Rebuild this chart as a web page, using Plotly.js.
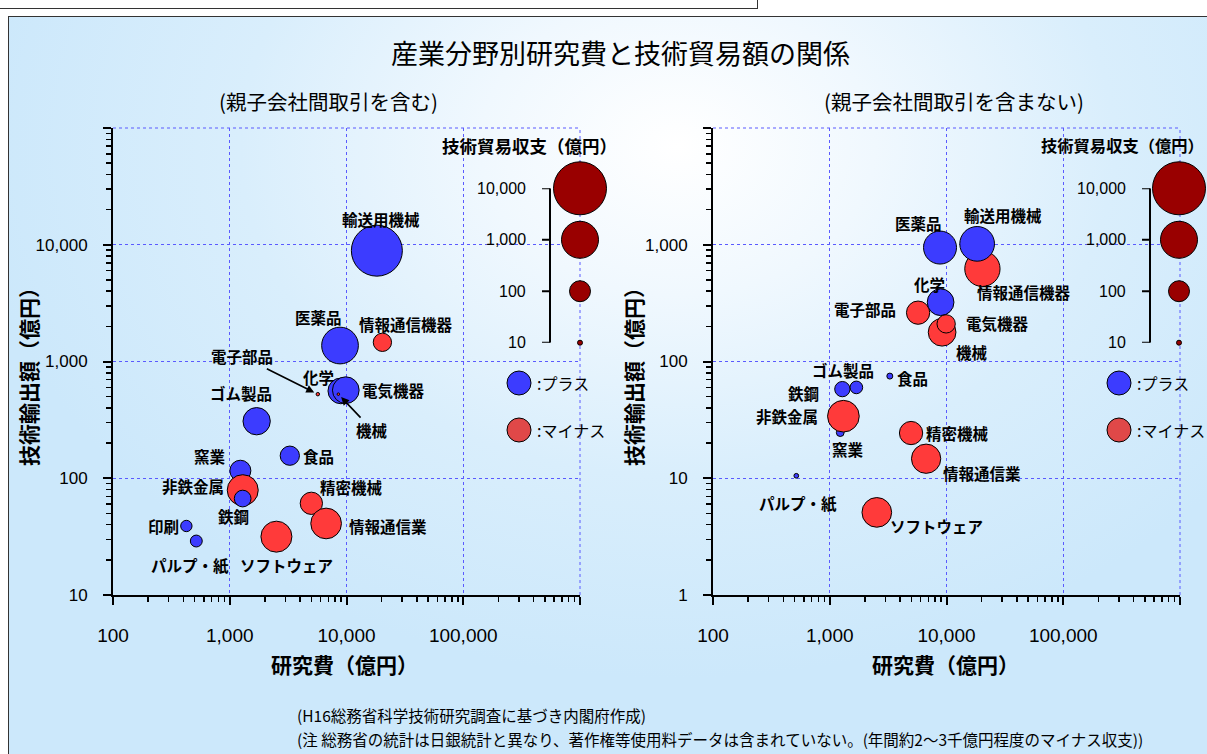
<!DOCTYPE html>
<html><head><meta charset="utf-8">
<script src="https://cdn.plot.ly/plotly-3.0.1.min.js"></script>
<style>
html,body{margin:0;padding:0;width:1207px;height:754px;overflow:hidden;background:#fff;}
#panel{position:absolute;left:8px;top:16px;width:1215px;height:760px;border:1.5px solid #333;
 background:radial-gradient(ellipse 58% 70% at 55% 17%, #ffffff 0%, #f0f8fe 28%, #d9eefc 62%, #cce8fb 100%);}
#topbox{position:absolute;left:-2px;top:-2px;width:758px;height:9px;border:1.5px solid #333;background:#fff;}
#chart{position:absolute;left:0;top:0;width:1207px;height:754px;}
</style></head>
<body>
<div id="panel"></div>
<div id="topbox"></div>
<div id="chart"></div>
<script>
// ---------- data ----------
// left chart: including parent/subsidiary transactions
const catsA = ['電子部品','化学','電気機器','機械','輸送用機械','医薬品','情報通信機器','ゴム製品','食品','窯業','非鉄金属','鉄鋼','印刷','パルプ・紙','ソフトウェア','精密機械','情報通信業'];
const rdA   = [5680, 8940, 9860, 8520, 18200, 8800, 20300, 1700, 3270, 1233, 1292, 1290, 425, 517, 2510, 5000, 6690];
const expA  = [525, 560, 568, 525, 8900, 1370, 1460, 308, 156, 116, 79, 67, 39, 29, 31.6, 61, 41];
const balA  = [-8, 196, 227, -7, 7500, 960, -68, 248, 78, 100, -422, 54, 25, 27, -422, -121, -403];
// right chart: excluding parent/subsidiary transactions
const catsB = ['電子部品','化学','機械','電気機器','情報通信機器','輸送用機械','医薬品','ゴム製品','鉄鋼','食品','窯業','非鉄金属','パルプ・紙','ソフトウェア','精密機械','情報通信業'];
const rdB   = [5710, 8900, 9170, 9930, 20300, 18300, 8800, 1690, 1282, 3270, 1230, 1309, 517, 2530, 4970, 6690];
const expB  = [262, 322, 178, 210, 622, 1018, 946, 60, 58, 75, 24.6, 34, 10.5, 5.1, 24.4, 14.7];
const balB  = [-139, 227, -262, -68, -783, 718, 562, 30, 44, 11.5, 15, -465, 9.6, -349, -139, -330];

const sizeLegendVals = [10000, 1000, 100, 10];
const sizeLegendText = ['10,000', '1,000', '100', '10'];

const xTickVals = [100, 1000, 10000, 100000, 1000000];
const xTickText = ['100', '1,000', '10,000', '100,000', ''];
const yTickValsA = [10, 100, 1000, 10000, 100000];
const yTickTextA = ['10', '100', '1,000', '10,000', ''];
const yTickValsB = [1, 10, 100, 1000, 10000];
const yTickTextB = ['1', '10', '100', '1,000', ''];

// ---------- label placement (pixel offsets from bubble centre) ----------
const labA = {
  '電子部品':[-76,-38,true], '化学':[-22,-14], '電気機器':[48,0], '機械':[34,36,true],
  '輸送用機械':[4,-32], '医薬品':[-22,-29], '情報通信機器':[24,-18], 'ゴム製品':[-16,-28],
  '食品':[29,0], '窯業':[-30,-15], '非鉄金属':[-50,-4], '鉄鋼':[-9,17], '印刷':[-23,0],
  'パルプ・紙':[-6,24], 'ソフトウェア':[10,28], '精密機械':[40,-16], '情報通信業':[62,3]
};
const labB = {
  '電子部品':[-53,-4], '化学':[-11,-18], '機械':[30,20], '電気機器':[51,-1],
  '情報通信機器':[42,23], '輸送用機械':[26,-29], '医薬品':[-22,-25], 'ゴム製品':[-13,-17],
  '鉄鋼':[-39,4], '食品':[23,2], '窯業':[8,16], '非鉄金属':[-56,0], 'パルプ・紙':[2,27],
  'ソフトウェア':[60,14], '精密機械':[46,0], '情報通信業':[56,14]
};

// ---------- styling ----------
const W = 1207, H = 754;
const px = x => x / W, py = y => 1 - y / H;
const BLUE = '#3c3cff', RED = '#ff3a3a', DARKRED = '#990000';
const GRID = '#5a5aff';
const JP = '"Noto Sans CJK JP", "Noto Sans", sans-serif';
const AR = '"Liberation Sans", Arial, sans-serif';
const NAR = '"Liberation Sans Narrow", "Liberation Sans", Arial, sans-serif';
const diam = v => Math.max(16 * Math.log10(Math.abs(v)) - 11, 2.5);

function bubbleTrace(rd, ex, bal, xa, ya) {
  return {
    type: 'scatter', mode: 'markers', x: rd, y: ex, xaxis: xa, yaxis: ya,
    hoverinfo: 'skip', cliponaxis: false,
    marker: { size: bal.map(diam), sizemode: 'diameter', opacity: 1,
      color: bal.map(b => b >= 0 ? BLUE : RED), line: { color: '#000', width: 1 } }
  };
}
function legendTrace(xa, ya) {
  return {
    type: 'scatter', mode: 'markers', x: sizeLegendVals.map(() => 0.5),
    y: sizeLegendVals.map(v => Math.log10(v)), xaxis: xa, yaxis: ya,
    hoverinfo: 'skip', cliponaxis: false,
    marker: { size: sizeLegendVals.map(diam), sizemode: 'diameter', color: DARKRED,
      opacity: 1, line: { color: '#000', width: 1 } }
  };
}
const traces = [
  bubbleTrace(rdA, expA, balA, 'x', 'y'),
  bubbleTrace(rdB, expB, balB, 'x2', 'y2'),
  legendTrace('x3', 'y3'),
  legendTrace('x4', 'y4')
];

function xAxis(domain, anchor) {
  return {
    type: 'log', domain: domain, anchor: anchor, range: [2, 6], fixedrange: true,
    tickmode: 'array', tickvals: xTickVals, ticktext: xTickText,
    showline: true, linecolor: '#000', linewidth: 2,
    ticks: 'outside', ticklen: 8, tickwidth: 2, tickcolor: '#000',
    ticklabelstandoff: 14,
    tickfont: { family: NAR, size: 19, color: '#000' },
    showgrid: true, gridcolor: GRID, gridwidth: 1, griddash: 'dot',
    minor: { ticks: 'outside', ticklen: 5, tickwidth: 1.5, tickcolor: '#000', dtick: 'D1', showgrid: false },
    zeroline: false, automargin: false
  };
}
function yAxis(domain, anchor, range, tv, tt) {
  return {
    type: 'log', domain: domain, anchor: anchor, range: range, fixedrange: true,
    tickmode: 'array', tickvals: tv, ticktext: tt,
    showline: true, linecolor: '#000', linewidth: 2,
    ticks: 'outside', ticklen: 8, tickwidth: 2, tickcolor: '#000',
    ticklabelstandoff: 12,
    tickfont: { family: AR, size: 17, color: '#000' },
    showgrid: true, gridcolor: GRID, gridwidth: 1, griddash: 'dot',
    minor: { ticks: 'outside', ticklen: 5, tickwidth: 1.5, tickcolor: '#000', dtick: 'D1', showgrid: false },
    zeroline: false, automargin: false
  };
}
const plotY = [py(595), py(128)];
const legY = [py(342.7), py(188.3)];
const hidden = (domain, anchor, range) => ({ domain, anchor, range, visible: false, fixedrange: true, showgrid: false, zeroline: false });

const ann = [];
const shapes = [];
function txt(text, x, y, size, opts) {
  ann.push(Object.assign({ text, x, y, xref: 'paper', yref: 'paper', showarrow: false,
    xanchor: 'center', yanchor: 'middle',
    font: { family: JP, size, color: '#000' } }, opts || {}));
}
// grid lines on the top and right edges of each plot area
[['x', 'y'], ['x2', 'y2']].forEach(([xa, ya]) => {
  shapes.push({ type: 'line', xref: xa + ' domain', yref: ya + ' domain', x0: 0, x1: 1, y0: 1, y1: 1,
    line: { color: GRID, width: 1, dash: 'dot' }, layer: 'below' });
  shapes.push({ type: 'line', xref: xa + ' domain', yref: ya + ' domain', x0: 1, x1: 1, y0: 0, y1: 1,
    line: { color: GRID, width: 1, dash: 'dot' }, layer: 'below' });
});
// titles
txt('産業分野別研究費と技術貿易額の関係', px(620), py(52), 27);
txt('(親子会社間取引を含む)', px(328), py(101), 20.5);
txt('(親子会社間取引を含まない)', px(954), py(101), 20.5);
txt('<b>技術輸出額（億円）</b>', px(28), py(372), 21, { textangle: -90 });
txt('<b>技術輸出額（億円）</b>', px(633), py(372), 21, { textangle: -90 });
txt('<b>研究費（億円）</b>', px(345), py(664), 21);
txt('<b>研究費（億円）</b>', px(945), py(664), 21);
// footnotes
txt('(H16総務省科学技術研究調査に基づき内閣府作成)', px(296), py(715), 15.5, { xanchor: 'left', borderpad: 0 });
txt('(注 総務省の統計は日銀統計と異なり、著作権等使用料データは含まれていない。(年間約2～3千億円程度のマイナス収支))',
  px(296), py(739), 15.5, { xanchor: 'left', borderpad: 0 });

// size legend texts, bracket, sign legend
function sizeLegend(yref, titleX, titleAnchor, titleSize, valX, brX, circX) {
  txt('<b>技術貿易収支（億円）</b>', titleX, py(145), titleSize, { xanchor: titleAnchor });
  sizeLegendVals.forEach((v, i) => {
    ann.push({ text: sizeLegendText[i], x: valX, y: Math.log10(v), xref: 'paper', yref: yref,
      showarrow: false, xanchor: 'right', yanchor: 'middle', font: { family: AR, size: 16, color: '#000' } });
    shapes.push({ type: 'line', xref: 'paper', yref: yref, x0: brX - 8 / W, x1: brX, y0: Math.log10(v), y1: Math.log10(v),
      line: { color: '#000', width: 2 } });
  });
  shapes.push({ type: 'line', xref: 'paper', yref: yref, x0: brX, x1: brX,
    y0: Math.log10(sizeLegendVals[sizeLegendVals.length - 1]), y1: Math.log10(sizeLegendVals[0]),
    line: { color: '#000', width: 2 } });
  [[383, '#3c3cff', ':プラス'], [430, '#e04848', ':マイナス']].forEach(([yy, col, t]) => {
    shapes.push({ type: 'circle', xref: 'paper', yref: 'paper', xsizemode: 'pixel', ysizemode: 'pixel',
      xanchor: circX, yanchor: py(yy), x0: -12, x1: 12, y0: -12, y1: 12,
      fillcolor: col, line: { color: '#000', width: 1 } });
    txt(t, circX + 16 / W, py(yy), 16, { xanchor: 'left' });
  });
}
sizeLegend('y3', px(529), 'center', 17.5, px(528), px(550), px(519));
sizeLegend('y4', px(1039), 'left', 16.3, px(1128), px(1150), px(1119));

// data labels
function labels(cats, rd, ex, lab, xref, yref) {
  cats.forEach((c, i) => {
    const o = lab[c];
    const base = { text: '<b>' + c + '</b>', x: Math.log10(rd[i]), y: Math.log10(ex[i]), xref, yref,
      font: { family: JP, size: 15.5, color: '#000' }, xanchor: 'center', yanchor: 'middle' };
    if (o[2]) {
      ann.push(Object.assign(base, { showarrow: true, ax: o[0], ay: o[1], arrowhead: 2, arrowsize: 1,
        arrowwidth: 1.6, arrowcolor: '#000', standoff: 4 }));
    } else {
      ann.push(Object.assign(base, { showarrow: false, xshift: o[0], yshift: -o[1] }));
    }
  });
}
labels(catsA, rdA, expA, labA, 'x', 'y');
labels(catsB, rdB, expB, labB, 'x2', 'y2');

const layout = {
  width: W, height: H, autosize: false, showlegend: false,
  margin: { l: 0, r: 0, t: 0, b: 0, pad: 0 },
  paper_bgcolor: 'rgba(0,0,0,0)', plot_bgcolor: 'rgba(0,0,0,0)',
  xaxis: xAxis([px(113), px(580)], 'y'),
  yaxis: yAxis(plotY, 'x', [1, 5], yTickValsA, yTickTextA),
  xaxis2: xAxis([px(713), px(1180)], 'y2'),
  yaxis2: yAxis(plotY, 'x2', [0, 4], yTickValsB, yTickTextB),
  xaxis3: hidden([px(560), px(600)], 'y3', [0, 1]),
  yaxis3: hidden(legY, 'x3', [1, 4]),
  xaxis4: hidden([px(1159), px(1199)], 'y4', [0, 1]),
  yaxis4: hidden(legY, 'x4', [1, 4]),
  annotations: ann, shapes: shapes
};
Plotly.newPlot('chart', traces, layout, { staticPlot: true, displayModeBar: false });
</script>
</body></html>
